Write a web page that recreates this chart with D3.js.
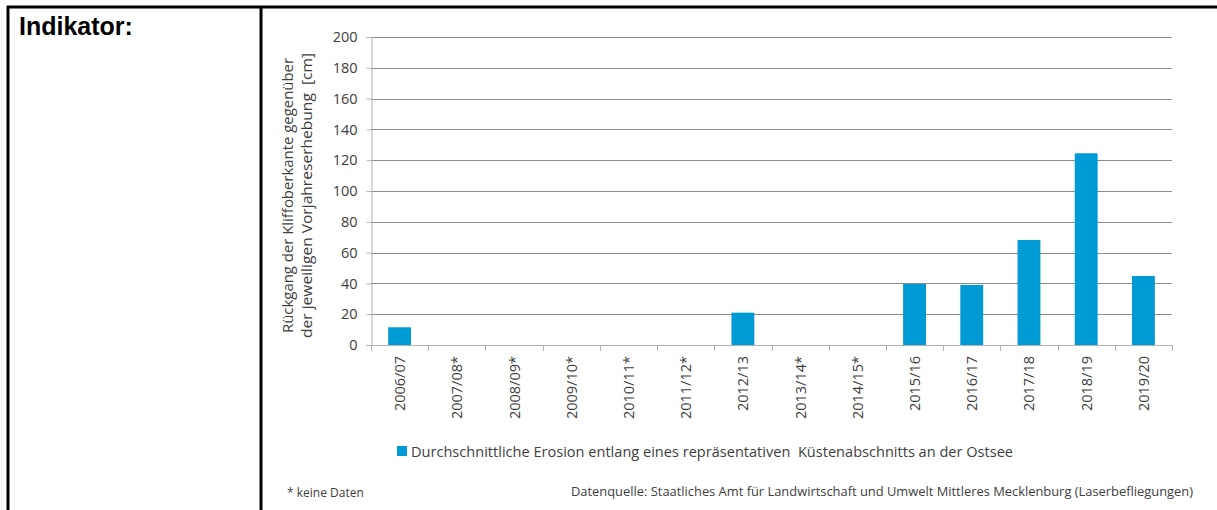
<!DOCTYPE html>
<html lang="de">
<head>
<meta charset="UTF-8">
<title>Kliffrückgang</title>
<script src="https://d3js.org/d3.v7.min.js"></script>
<style>
  body { margin: 0; background: #fff; }
  svg { display: block; }
  text { white-space: pre; }
</style>
</head>
<body>
<svg id="chart" width="1217" height="510"></svg>
<script>
const categories = ["2006/07", "2007/08*", "2008/09*", "2009/10*", "2010/11*", "2011/12*", "2012/13",
  "2013/14*", "2014/15*", "2015/16", "2016/17", "2017/18", "2018/19", "2019/20"];
const values = [11.5, null, null, null, null, null, 21, null, null, 39.6, 39, 68.2, 124.5, 44.8];
const yTicks = [0, 20, 40, 60, 80, 100, 120, 140, 160, 180, 200];
const seriesName = "Durchschnittliche Erosion entlang eines repräsentativen  Küstenabschnitts an der Ostsee";

const svg = d3.select("#chart");
const font = "'Open Sans', sans-serif";
const textColor = "#404040";

// table frame
svg.append("line").attr("x1", 7).attr("x2", 1217).attr("y1", 7).attr("y2", 7)
  .attr("stroke", "#000").attr("stroke-width", 3);
svg.append("line").attr("x1", 8).attr("x2", 8).attr("y1", 6).attr("y2", 510)
  .attr("stroke", "#000").attr("stroke-width", 3);
svg.append("line").attr("x1", 261).attr("x2", 261).attr("y1", 6).attr("y2", 510)
  .attr("stroke", "#000").attr("stroke-width", 3);

svg.append("text").attr("x", 19).attr("y", 35)
  .attr("font-family", "Arial, 'Liberation Sans', sans-serif")
  .attr("font-weight", "bold").attr("font-size", 25)
  .text("Indikator:");

const plotLeft = 371, plotRight = 1172, plotTop = 37, plotBottom = 345;

const x = d3.scaleBand().domain(categories).range([plotLeft, plotRight]).paddingInner(0.6).paddingOuter(0.3);
const xEdge = d3.scaleLinear().domain([0, categories.length]).range([plotLeft, plotRight]);
const y = d3.scaleLinear().domain([0, 200]).range([plotBottom, plotTop]);

// gridlines
svg.append("g").selectAll("line").data(yTicks.filter(d => d > 0)).join("line")
  .attr("x1", plotLeft).attr("x2", plotRight)
  .attr("y1", d => Math.round(y(d)) + 0.5).attr("y2", d => Math.round(y(d)) + 0.5)
  .attr("stroke", "#8c8c8c").attr("stroke-width", 1);

// y axis
const yAxis = svg.append("g").attr("transform", `translate(${plotLeft + 0.5},0)`)
  .call(d3.axisLeft(y).tickValues(yTicks).tickSize(5).tickPadding(9));
yAxis.select(".domain").attr("stroke", "#b3b3b3");
yAxis.selectAll(".tick line").attr("stroke", "#b3b3b3");
yAxis.selectAll("text").attr("font-family", font).attr("font-size", 14.5).attr("fill", textColor);

// bars
svg.append("g").selectAll("rect")
  .data(categories.map((c, i) => ({ c, v: values[i] })).filter(d => d.v != null))
  .join("rect")
  .attr("x", d => x(d.c))
  .attr("width", x.bandwidth())
  .attr("y", d => y(d.v))
  .attr("height", d => y(0) - y(d.v))
  .attr("fill", "#009ad4");

// x axis
svg.append("line").attr("x1", plotLeft).attr("x2", plotRight)
  .attr("y1", plotBottom + 0.5).attr("y2", plotBottom + 0.5).attr("stroke", "#b3b3b3");
svg.append("g").selectAll("line").data(d3.range(categories.length + 1)).join("line")
  .attr("x1", d => Math.round(xEdge(d)) + 0.5).attr("x2", d => Math.round(xEdge(d)) + 0.5)
  .attr("y1", plotBottom).attr("y2", plotBottom + 6).attr("stroke", "#b3b3b3");
svg.append("g").selectAll("text").data(categories).join("text")
  .attr("transform", d => `translate(${x(d) + x.bandwidth() / 2 + 5.5},${plotBottom + 11}) rotate(-90)`)
  .attr("text-anchor", "end")
  .attr("font-family", font).attr("font-size", 14.5).attr("fill", textColor)
  .text(d => d);

// y axis title
const yt = svg.append("text")
  .attr("transform", "translate(293,195.5) rotate(-90)")
  .attr("text-anchor", "middle")
  .attr("font-family", font).attr("font-size", 14.5).attr("fill", textColor);
yt.append("tspan").attr("x", 0).attr("y", 0)
  .attr("textLength", 275).attr("lengthAdjust", "spacingAndGlyphs")
  .text("Rückgang der Kliffoberkante gegenüber");
yt.append("tspan").attr("x", 0).attr("y", 19)
  .attr("textLength", 285).attr("lengthAdjust", "spacingAndGlyphs")
  .text("der jeweiligen Vorjahreserhebung  [cm]");

// legend
svg.append("rect").attr("x", 397).attr("y", 446).attr("width", 10).attr("height", 10).attr("fill", "#009ad4");
svg.append("text").attr("x", 411).attr("y", 457)
  .attr("font-family", font).attr("font-size", 14).attr("fill", textColor)
  .attr("textLength", 602).attr("lengthAdjust", "spacingAndGlyphs")
  .text(seriesName);

// notes
svg.append("text").attr("x", 287).attr("y", 497)
  .attr("font-family", font).attr("font-size", 12).attr("fill", textColor)
  .text("* keine Daten");
svg.append("text").attr("x", 571).attr("y", 496)
  .attr("font-family", font).attr("font-size", 12).attr("fill", textColor)
  .attr("textLength", 622).attr("lengthAdjust", "spacingAndGlyphs")
  .text("Datenquelle: Staatliches Amt für Landwirtschaft und Umwelt Mittleres Mecklenburg (Laserbefliegungen)");
</script>
</body>
</html>
